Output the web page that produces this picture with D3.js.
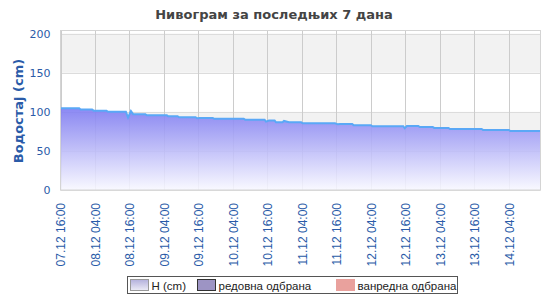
<!DOCTYPE html>
<html>
<head>
<meta charset="utf-8">
<script src="https://cdn.jsdelivr.net/npm/d3@7"></script>
<style>
  body { margin: 0; background: #fff; }
  svg { display: block; }
</style>
</head>
<body>
<svg id="chart" width="550" height="300"></svg>
<script>
// water level readings (time, cm)
const times = [
  "07.12 16:00", "07.12 22:30", "07.12 23:00", "08.12 03:00", "08.12 03:30", "08.12 08:00",
  "08.12 08:30", "08.12 14:45", "08.12 15:30", "08.12 16:30", "08.12 17:15", "08.12 21:30",
  "08.12 22:00", "09.12 05:00", "09.12 05:30", "09.12 08:45", "09.12 09:15", "09.12 15:00",
  "09.12 15:30", "09.12 16:30", "09.12 17:00", "09.12 21:00", "09.12 21:30", "10.12 07:45",
  "10.12 08:15", "10.12 15:00", "10.12 15:30", "10.12 16:30", "10.12 17:00", "10.12 18:30",
  "10.12 19:00", "10.12 21:15", "10.12 21:45", "10.12 23:30", "11.12 00:00", "11.12 03:45",
  "11.12 04:15", "11.12 15:30", "11.12 16:30", "11.12 17:15", "11.12 21:30", "11.12 22:00",
  "12.12 04:00", "12.12 04:30", "12.12 15:15", "12.12 15:45", "12.12 16:30", "12.12 20:30",
  "12.12 21:00", "13.12 01:30", "13.12 02:00", "13.12 07:00", "13.12 07:30", "13.12 18:30",
  "13.12 19:00", "14.12 04:00", "14.12 04:30", "14.12 15:00"
];
const levels = [
  104.5, 104.5, 103, 103, 101.5, 101.5,
  100, 100, 92.6, 101, 97, 97,
  95.5, 95.5, 94.3, 94.3, 93, 93,
  91.7, 92, 92, 92, 91, 91,
  90, 90, 87.5, 88.8, 88.8, 88.8,
  86.6, 86.6, 88.3, 86.6, 86.6, 86.6,
  85.4, 85.4, 84, 84.5, 84.5, 82.8,
  82.8, 81.5, 81.5, 79, 81.9, 81.9,
  80.6, 80.6, 79.4, 79.4, 78, 78,
  76.8, 76.8, 75.5, 75.5
];
const xTicks = [
  "07.12 16:00", "08.12 04:00", "08.12 16:00", "09.12 04:00", "09.12 16:00", "10.12 04:00",
  "10.12 16:00", "11.12 04:00", "11.12 16:00", "12.12 04:00", "12.12 16:00", "13.12 04:00",
  "13.12 16:00", "14.12 04:00"
];
const yTicks = [0, 50, 100, 150, 200];
const bands = [[50, 100], [150, 200]];
const legendItems = ["H (cm)", "редовна одбрана", "ванредна одбрана"];

const parse = d3.timeParse("%d.%m %H:%M");
const fmt = d3.timeFormat("%d.%m %H:%M");
const data = times.map((t, i) => ({ t: parse(t), v: levels[i] }));

const svg = d3.select("#chart");
const plotLeft = 60.5, plotRight = 540.5, plotTop = 30.5, plotBottom = 190;

const x = d3.scaleTime()
  .domain([parse("07.12 16:00"), parse("14.12 15:00")])
  .range([plotLeft, plotRight]);
const y = d3.scaleLinear().domain([0, 204]).range([plotBottom, plotTop]);

const defs = svg.append("defs");
const grad = defs.append("linearGradient")
  .attr("id", "hGrad")
  .attr("gradientUnits", "userSpaceOnUse")
  .attr("x1", 0).attr("x2", 0)
  .attr("y1", y(105)).attr("y2", y(0));
grad.append("stop").attr("offset", 0).attr("stop-color", "#7b78f2");
grad.append("stop").attr("offset", 1).attr("stop-color", "#f8f8ff");

const legGrad = defs.append("linearGradient")
  .attr("id", "legGrad").attr("x1", 0).attr("x2", 0).attr("y1", 0).attr("y2", 1);
legGrad.append("stop").attr("offset", 0).attr("stop-color", "#b3b0dc");
legGrad.append("stop").attr("offset", 1).attr("stop-color", "#ecebf6");

// plot background bands
svg.append("g")
  .selectAll("rect")
  .data(bands)
  .join("rect")
  .attr("x", plotLeft)
  .attr("width", plotRight - plotLeft)
  .attr("y", (d) => y(d[1]))
  .attr("height", (d) => y(d[0]) - y(d[1]))
  .attr("fill", "#f2f2f2");

// grid
svg.append("g")
  .selectAll("line")
  .data(yTicks)
  .join("line")
  .attr("x1", plotLeft).attr("x2", plotRight)
  .attr("y1", (d) => Math.round(y(d)) + 0.5)
  .attr("y2", (d) => Math.round(y(d)) + 0.5)
  .attr("stroke", "#dcdcdc");

svg.append("g")
  .selectAll("line")
  .data(xTicks)
  .join("line")
  .attr("x1", (d) => Math.round(x(parse(d))) + 0.5)
  .attr("x2", (d) => Math.round(x(parse(d))) + 0.5)
  .attr("y1", plotTop).attr("y2", plotBottom)
  .attr("stroke", "#cccccc");

// water level area + line
const area = d3.area()
  .x((d) => x(d.t))
  .y0(y(0))
  .y1((d) => y(d.v));
svg.append("path")
  .datum(data)
  .attr("d", area)
  .attr("fill", "url(#hGrad)")
  .attr("fill-opacity", 0.88);

const line = d3.line()
  .x((d) => x(d.t))
  .y((d) => y(d.v));
svg.append("path")
  .datum(data)
  .attr("d", line)
  .attr("fill", "none")
  .attr("stroke", "#5aa8f6")
  .attr("stroke-width", 2);

// frame
svg.append("rect")
  .attr("x", plotLeft).attr("y", plotTop)
  .attr("width", plotRight - plotLeft).attr("height", plotBottom - plotTop)
  .attr("fill", "none")
  .attr("stroke", "#d4d4d4");

// axes
const axisColor = "#2a5ba8";
const yAxis = svg.append("g")
  .attr("transform", `translate(${plotLeft},0)`)
  .call(d3.axisLeft(y).tickValues(yTicks).tickSize(0).tickPadding(10));
yAxis.select(".domain").remove();
yAxis.selectAll("text")
  .attr("fill", axisColor)
  .style("font", "11px 'DejaVu Sans', sans-serif");

const xAxis = svg.append("g")
  .attr("transform", `translate(0,${plotBottom})`)
  .call(d3.axisBottom(x).tickValues(xTicks.map(parse)).tickFormat(fmt).tickSize(0));
xAxis.select(".domain").remove();
xAxis.selectAll("text")
  .attr("fill", axisColor)
  .style("font", "12px 'Liberation Sans', Arial, sans-serif")
  .attr("text-anchor", "end")
  .attr("transform", "rotate(-90)")
  .attr("x", -13)
  .attr("y", 0)
  .attr("dy", "0.35em");

// titles
svg.append("text")
  .attr("x", 274).attr("y", 19)
  .attr("text-anchor", "middle")
  .attr("fill", "#444")
  .style("font", "bold 13px 'DejaVu Sans', sans-serif")
  .text("Нивограм за последњих 7 дана");

svg.append("text")
  .attr("transform", `translate(23,111) rotate(-90)`)
  .attr("text-anchor", "middle")
  .attr("fill", axisColor)
  .style("font", "bold 13px 'DejaVu Sans', sans-serif")
  .text("Водостај (cm)");

// legend
const legend = svg.append("g");
legend.append("rect")
  .attr("x", 127.5).attr("y", 276.5)
  .attr("width", 330).attr("height", 17)
  .attr("fill", "#fff")
  .attr("stroke", "#555");

const swatchFill = ["url(#legGrad)", "#9d94c4", "#e9a19d"];
const swatchStroke = ["#999", "#333", "#e9a19d"];
const itemX = [130.5, 197.5, 336.5];
const items = legend.selectAll("g.item")
  .data(legendItems)
  .join("g")
  .attr("class", "item")
  .attr("transform", (d, i) => `translate(${itemX[i]},279.5)`);
items.append("rect")
  .attr("width", 18).attr("height", 11)
  .attr("fill", (d, i) => swatchFill[i])
  .attr("stroke", (d, i) => swatchStroke[i]);
items.append("text")
  .attr("x", 21).attr("y", 10)
  .attr("fill", "#222")
  .style("font", "11.5px 'Liberation Sans', Arial, sans-serif")
  .text((d) => d);
</script>
</body>
</html>
